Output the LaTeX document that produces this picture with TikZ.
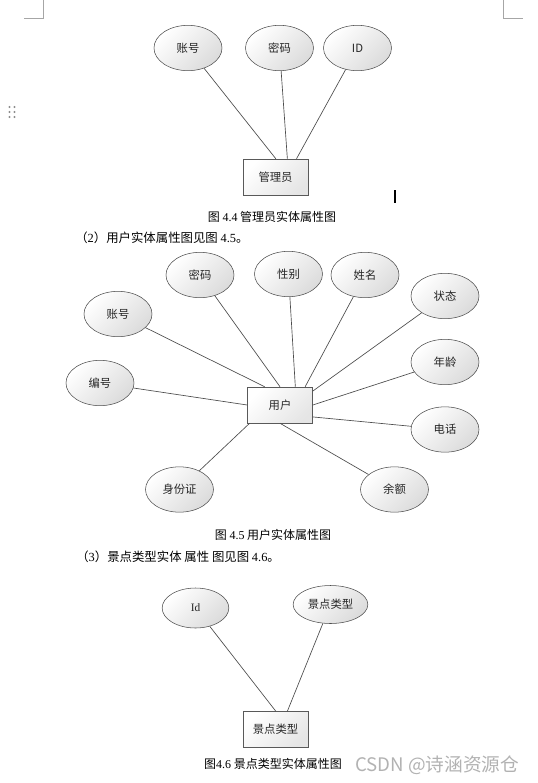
\documentclass[tikz,border=0pt]{standalone}
\usepackage{fontspec}
\setmainfont{Liberation Serif}
\newfontfamily\cjk{Noto Sans CJK SC}
\usetikzlibrary{shapes.geometric}

\begin{document}
\begin{tikzpicture}[x=0.75pt, y=-0.75pt,
  attr/.style={ellipse, draw=black!70, top color=white, bottom color=black!14,
               shading angle=45, minimum width=51pt, minimum height=34pt,
               inner sep=0pt, font=\cjk\fontsize{8.5}{10}\selectfont, text=black!85},
  ent/.style={draw=black!65, top color=white, bottom color=black!10,
              shading angle=45, minimum width=48.75pt, minimum height=27pt,
              inner sep=0pt, font=\cjk\fontsize{8.5}{10}\selectfont, text=black!85},
  link/.style={draw=black!70, line width=0.5pt},
  figcap/.style={font=\cjk\fontsize{9}{11}\selectfont, inner sep=0pt},
  para/.style={font=\cjk\fontsize{9.3}{11}\selectfont, inner sep=0pt, anchor=west},
  cornermark/.style={draw=black!35, line width=0.7pt},
]
  \useasboundingbox (0,0) rectangle (537,783);

  % page corner marks and drag handle
  \draw[cornermark] (24,18) -- (43,18) -- (43,0);
  \draw[cornermark] (503,0) -- (503,18) -- (523,18);
  \foreach \dx in {9.5,14.5}
    \foreach \dy in {107,112,117}
      \fill[black!45] (\dx,\dy) circle (0.8pt);

  % Fig. 4.4 administrator
  \node[ent] (admin) at (275.5,177) {管理员};
  \node[attr] (a-acct) at (188,48) {账号};
  \node[attr] (a-pwd) at (279.5,48) {密码};
  \node[attr] (a-id) at (357.5,48) {ID};
  \draw[link] (a-acct) -- (admin.89);
  \draw[link] (a-pwd) -- (admin.57);
  \draw[link] (a-id) -- (admin.41);
  \draw[line width=1.5pt] (395,190) -- (395,203);
  \node[figcap] (cap44) at (272,217) {图 {\rmfamily 4.4} 管理员实体属性图};

  \node[para] (txt45) at (75,238) {（{\rmfamily 2}）用户实体属性图见图 {\rmfamily 4.5}。};

  % Fig. 4.5 user
  \node[ent] (user) at (280,405) {用户};
  \node[attr] (u-acct) at (118,314) {账号};
  \node[attr] (u-pwd) at (200,275) {密码};
  \node[attr] (u-sex) at (288.5,274) {性别};
  \node[attr] (u-name) at (365,275) {姓名};
  \node[attr] (u-state) at (445,296) {状态};
  \node[attr] (u-age) at (445,362) {年龄};
  \node[attr] (u-tel) at (445,429.5) {电话};
  \node[attr] (u-bal) at (394.5,489.5) {余额};
  \node[attr] (u-idno) at (179.5,489.5) {身份证};
  \node[attr] (u-no) at (100,383) {编号};
  \draw[link] (u-acct) -- (user.130);
  \draw[link] (u-pwd) -- (user.90);
  \draw[link] (u-sex) -- (user.50);
  \draw[link] (u-name) -- (user.36);
  \draw[link] (u-state) -- (user.23);
  \draw[link] (u-age) -- (user.0);
  \draw[link] (u-tel) -- (user.340);
  \draw[link] (u-bal) -- (user.270);
  \draw[link] (u-idno) -- (user.211);
  \draw[link] (u-no) -- (user.180);
  \node[figcap] (cap45) at (273,535) {图 {\rmfamily 4.5} 用户实体属性图};

  \node[para] (txt46) at (76,557) {（{\rmfamily 3}）景点类型实体 属性 图见图 {\rmfamily 4.6}。};

  % Fig. 4.6 scenic spot type
  \node[ent] (spot) at (275.5,729.5) {景点类型};
  \node[attr, minimum width=50pt, minimum height=30pt] (s-id) at (195.5,608) {{\rmfamily Id}};
  \node[attr, minimum width=56pt, minimum height=28.5pt] (s-type) at (330.5,604.5) {景点类型};
  \draw[link] (s-id) -- (spot.89);
  \draw[link] (s-type) -- (spot.57);
  \node[figcap] (cap46) at (273,764) {图{\rmfamily 4.6} 景点类型实体属性图};
  \node[font=\cjk\fontsize{14}{16}\selectfont, text=black!30, anchor=west, inner sep=0pt]
    (wm) at (355,765) {CSDN @诗涵资源仓};
\end{tikzpicture}
\end{document}
